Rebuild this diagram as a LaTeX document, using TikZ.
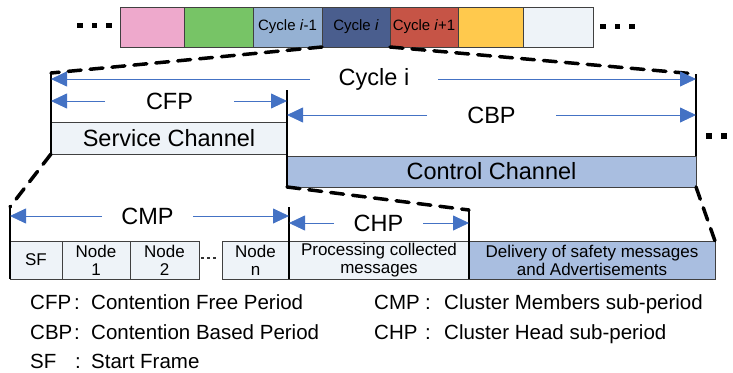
\documentclass[tikz,border=0pt]{standalone}
\usepackage{fontspec}
\setmainfont{Liberation Sans}
\usetikzlibrary{arrows.meta}
\definecolor{cpink}{HTML}{EEA9CC}
\definecolor{cgreen}{HTML}{77C466}
\definecolor{clblue}{HTML}{95B1D3}
\definecolor{cdblue}{HTML}{4A5E8E}
\definecolor{cred}{HTML}{C65446}
\definecolor{cyellow}{HTML}{FFC94D}
\definecolor{clight}{HTML}{EEF3F8}
\definecolor{cchan}{HTML}{A9BEE0}
\definecolor{arrowblue}{HTML}{4472C4}
\begin{document}
\begin{tikzpicture}[x=1pt,y=-1pt,
  cell/.style={draw=black!75, line width=0.7pt, anchor=north west, inner sep=0pt, outer sep=0pt, minimum height=40pt, font=\fontsize{15}{16}\selectfont},
  box/.style={draw=black!75, line width=0.7pt, anchor=north west, inner sep=0pt, outer sep=0pt, align=center, font=\fontsize{17}{18}\selectfont},
  bigbox/.style={box, font=\fontsize{23.5}{26}\selectfont},
  lbl/.style={inner sep=0pt, outer sep=0pt, font=\fontsize{23.5}{26}\selectfont},
  arr/.style={draw=arrowblue, line width=0.8pt, -{Triangle[length=16pt,width=15pt]}},
  dsh/.style={line width=3.5pt, dash pattern=on 13pt off 9pt, line cap=round},
  vline/.style={line width=1.4pt},
  bigdot/.style={fill=black, inner sep=0pt, minimum size=5.5pt},
  smalldot/.style={fill=black!80, inner sep=0pt, minimum size=2.5pt},
  leg/.style={inner sep=0pt, font=\fontsize{20.5}{22}\selectfont}
]
\useasboundingbox (0,0) rectangle (733,372);

% top bar
\node[cell, fill=cpink,   minimum width=64pt] (c1) at (120,7) {};
\node[cell, fill=cgreen,  minimum width=69pt] (c2) at (184,7) {};
\node[cell, fill=clblue,  minimum width=69pt] (c3) at (253,7) {Cycle \textit{i}-1};
\node[cell, fill=cdblue,  minimum width=68pt] (c4) at (322,7) {Cycle \textit{i}};
\node[cell, fill=cred,    minimum width=68pt] (c5) at (390,7) {Cycle \textit{i}+1};
\node[cell, fill=cyellow, minimum width=65pt] (c6) at (458,7) {};
\node[cell, fill=clight,  minimum width=70pt] (c7) at (523,7) {};

\node[bigdot] (dl1) at (80,25.5) {};
\node[bigdot] (dl2) at (94.5,25.5) {};
\node[bigdot] (dl3) at (109,25.5) {};
\node[bigdot] (dr1) at (603,26.5) {};
\node[bigdot] (dr2) at (617.5,26.5) {};
\node[bigdot] (dr3) at (632,26.5) {};

% cycle level
\coordinate (cTL) at (51,73);
\coordinate (cTR) at (696,74);
\coordinate (mTop) at (287,90);
\node[bigbox, fill=clight, minimum width=236pt, minimum height=32pt] (sc) at (51,122) {Service Channel};
\node[bigbox, fill=cchan, minimum width=409pt, minimum height=31pt] (cc) at (287,156) {Control Channel};

\draw[vline] (cTL) -- (sc.south west);
\draw[vline] (mTop) -- (cc.south west);
\draw[vline] (cTR) -- (cc.north east);

\draw[dsh] (c4.south west) -- (cTL);
\draw[dsh] (c4.south east) -- (cTR);

\node[lbl, minimum width=128pt] (cyc) at (374,79) {Cycle i};
\draw[arr] (cyc.west) -- (cyc.west -| cTL);
\draw[arr] (cyc.east) -- (cyc.east -| cTR);

\node[lbl, minimum width=129pt] (cfp) at (169.5,101) {CFP};
\draw[arr] (cfp.west) -- (cfp.west -| cTL);
\draw[arr] (cfp.east) -- (cfp.east -| mTop);

\node[lbl, minimum width=129pt] (cbp) at (491.5,115) {CBP};
\draw[arr] (cbp.west) -- (cbp.west -| mTop);
\draw[arr] (cbp.east) -- (cbp.east -| cTR);

\node[bigdot] (dm1) at (709,136) {};
\node[bigdot] (dm2) at (724,136) {};

% lower level
\coordinate (lTop) at (10,207);
\coordinate (hTop1) at (289,207);
\coordinate (hTop2) at (469,210);
\node[box, fill=clight, minimum width=52pt,  minimum height=38pt] (sf) at (10,241) {SF};
\node[box, fill=clight, minimum width=68pt,  minimum height=38pt] (n1) at (62,241) {Node\\1};
\node[box, fill=clight, minimum width=69pt,  minimum height=38pt] (n2) at (130,241) {Node\\2};
\node[box, fill=clight, minimum width=67pt,  minimum height=38pt] (nn) at (222,241) {Node\\n};
\node[box, fill=clight, minimum width=180pt, minimum height=38pt] (proc) at (289,241) {Processing collected\\messages};
\node[box, fill=cchan,  minimum width=246pt, minimum height=38pt] (del) at (469,241) {Delivery of safety messages\\and Advertisements};

\node[smalldot] (nd1) at (202.7,258) {};
\node[smalldot] (nd2) at (208.5,258) {};
\node[smalldot] (nd3) at (214.3,258) {};

\draw[vline] (lTop) -- (sf.south west);
\draw[vline] (hTop1) -- (proc.south west);
\draw[vline] (hTop2) -- (proc.south east);

\draw[dsh] (sc.south west) -- (lTop);
\draw[dsh] (cc.south west) -- (hTop2);
\draw[dsh] (cc.south east) -- (del.north east);

\node[lbl, minimum width=91pt] (cmp) at (147.5,216) {CMP};
\draw[arr] (cmp.west) -- (cmp.west -| lTop);
\draw[arr] (cmp.east) -- (cmp.east -| hTop1);

\node[lbl, minimum width=89pt] (chp) at (378.5,223) {CHP};
\draw[arr] (chp.west) -- (chp.west -| hTop1);
\draw[arr] (chp.east) -- (chp.east -| hTop2);

% legend
\node[leg, anchor=base west] (lg1) at (30,309) {CFP};
\node[leg, anchor=base] (lg1c) at (77,309) {:};
\node[leg, anchor=base west] (lg1d) at (91,309) {Contention Free Period};
\node[leg, anchor=base west] (lg2) at (30,339) {CBP};
\node[leg, anchor=base] (lg2c) at (77,339) {:};
\node[leg, anchor=base west] (lg2d) at (91,339) {Contention Based Period};
\node[leg, anchor=base west] (lg3) at (30,368) {SF};
\node[leg, anchor=base] (lg3c) at (78,368) {:};
\node[leg, anchor=base west] (lg3d) at (91,368) {Start Frame};
\node[leg, anchor=base west] (lg4) at (374,309) {CMP};
\node[leg, anchor=base] (lg4c) at (428,309) {:};
\node[leg, anchor=base west] (lg4d) at (444,309) {Cluster Members sub-period};
\node[leg, anchor=base west] (lg5) at (374,339) {CHP};
\node[leg, anchor=base] (lg5c) at (428,339) {:};
\node[leg, anchor=base west] (lg5d) at (444,339) {Cluster Head sub-period};
\end{tikzpicture}
\end{document}
